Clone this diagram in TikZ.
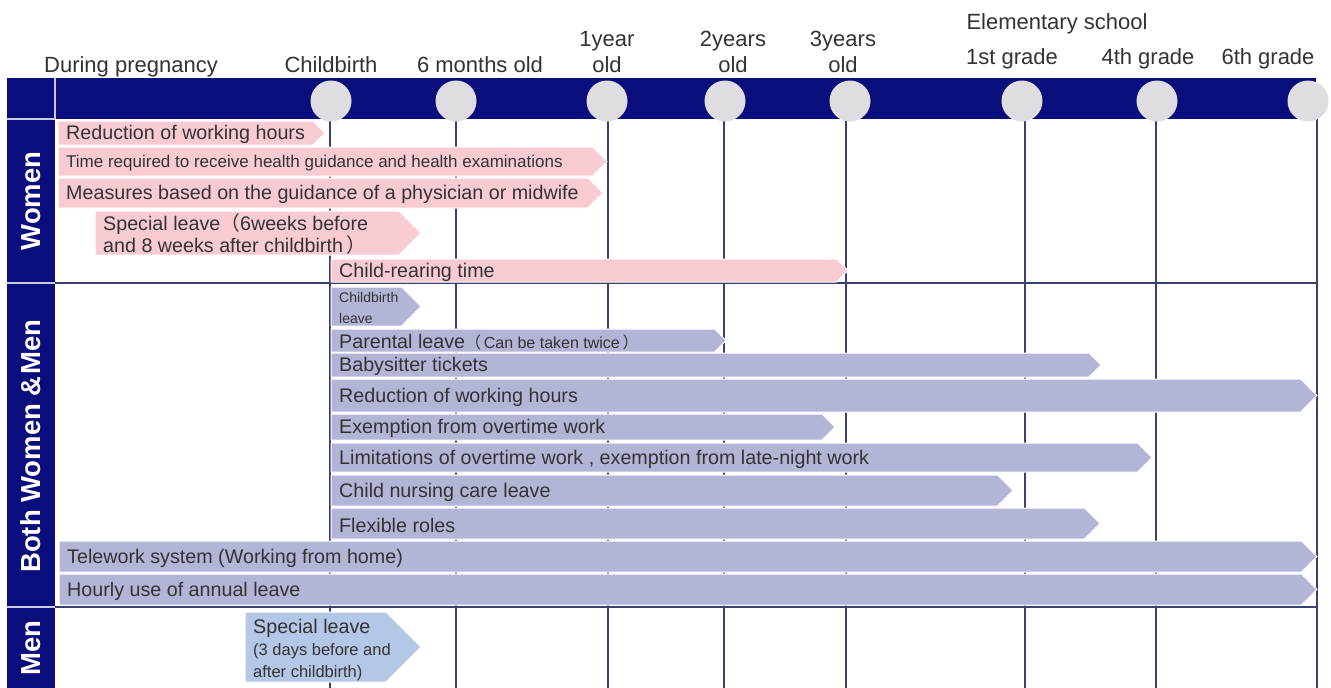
\documentclass[tikz,border=0pt]{standalone}
\usepackage{fontspec}
\setmainfont{Liberation Sans}
\newfontfamily\cjk{Noto Sans CJK JP}
\definecolor{navy}{HTML}{0A0E7C}
\definecolor{circfill}{HTML}{DDDDE2}
\definecolor{pinkbar}{HTML}{F8CBD3}
\definecolor{lavbar}{HTML}{B3B5D7}
\definecolor{menbar}{HTML}{B4C7E7}
\definecolor{gridc}{HTML}{3C4070}
\definecolor{txt}{HTML}{333333}
\definecolor{sepc}{HTML}{C8CBE8}
\newcommand\tlbar[8][]{%
  \fill[#7, draw=white, line width=1pt] (#3,#4) -- ({#5-(#6-#4)/2},#4) -- (#5,{(#4+#6)/2}) -- ({#5-(#6-#4)/2},#6) -- (#3,#6) -- cycle;
  \node[bartext,#1] (#2) at ({#3+8},{(#4+#6)/2}) {#8};}
\begin{document}
\begin{tikzpicture}[x=1pt,y=-1pt,
  bartext/.style={anchor=west, inner sep=0pt, yshift=-1.5pt, text=txt, align=left, font=\fontsize{19.7}{22}\selectfont},
  hdr/.style={anchor=base, inner sep=0pt, text=txt, align=center, font=\fontsize{22}{26}\selectfont},
  side/.style={rotate=90, inner sep=0pt, text=white, font=\bfseries\fontsize{27.5}{30}\selectfont},
  circ/.style={circle, fill=circfill, minimum size=41pt, inner sep=0pt},
  gridline/.style={draw=gridc, line width=1.5pt},
  sepline/.style={draw=sepc, line width=1.2pt}]
\useasboundingbox[fill=white] (0,0) rectangle (1331,688);
% header band and left column
\fill[navy] (7,78) rectangle (1316,119);
\fill[navy] (7,119) rectangle (55,688);
\draw[sepline] (55,78) -- (55,119);
\draw[sepline] (7,119) -- (55,119);
\draw[sepline] (7,283) -- (55,283);
\draw[sepline] (7,607) -- (55,607);
% grid
\foreach \gx in {330,456,608,724,846,1025,1156,1317}
  \draw[gridline] (\gx,119) -- (\gx,688);
\draw[gridline] (55,283) -- (1317,283);
\draw[gridline] (55,607) -- (1317,607);
% circles
\node[circ] (c1) at (331,101) {};
\node[circ] (c2) at (456,101) {};
\node[circ] (c3) at (607,101) {};
\node[circ] (c4) at (725,101) {};
\node[circ] (c5) at (850,101) {};
\node[circ] (c6) at (1022,101) {};
\node[circ] (c7) at (1157,101) {};
\node[circ] (c8) at (1308,101) {};
% header labels
\node[hdr] (h1) at (131,72) {During pregnancy};
\node[hdr] (h2) at (331,72) {Childbirth};
\node[hdr] (h3) at (480,72) {6 months old};
\node[hdr] (h4) at (607,72) {1year\\old};
\node[hdr] (h5) at (733,72) {2years\\old};
\node[hdr] (h6) at (843,72) {3years\\old};
\node[hdr] (h7) at (1057,29) {Elementary school};
\node[hdr] (h8) at (1012,64) {1st grade};
\node[hdr] (h9) at (1148,64) {4th grade};
\node[hdr] (h10) at (1268,64) {6th grade};
% side labels
\node[side] (sw) at (31,201) {Women};
\node[side] (sb) at (31,446) {Both Women \&\hspace{2pt}Men};
\node[side] (sm) at (31,648) {Men};
% women bars
\tlbar{w1}{58}{121}{325}{145}{pinkbar}{Reduction of working hours}
\tlbar[font=\fontsize{17}{20}\selectfont]{w2}{58}{147}{607}{176}{pinkbar}{Time required to receive health guidance and health examinations}
\tlbar{w3}{58}{178}{603}{208}{pinkbar}{Measures based on the guidance of a physician or midwife}
\tlbar{w4}{95}{211}{421}{255}{pinkbar}{Special leave{\cjk （}6weeks before\\and 8 weeks after childbirth\,{\cjk ）}}
\tlbar{w5}{331}{259}{848}{282}{pinkbar}{Child-rearing time}
% both bars
\tlbar[font=\fontsize{14}{21}\selectfont]{b1}{331}{287}{421}{326}{lavbar}{Childbirth\\leave}
\tlbar{b2}{331}{329}{726}{352}{lavbar}{Parental leave{\fontsize{16}{20}\selectfont{\cjk （}\,Can be taken twice\,{\cjk ）}}}
\tlbar{b3}{331}{353}{1101}{377}{lavbar}{Babysitter tickets}
\tlbar{b4}{331}{379}{1317}{412}{lavbar}{Reduction of working hours}
\tlbar{b5}{331}{414}{835}{440}{lavbar}{Exemption from overtime work}
\tlbar{b6}{331}{443}{1152}{472}{lavbar}{Limitations of overtime work , exemption from late-night work}
\tlbar{b7}{331}{475}{1013}{506}{lavbar}{Child nursing care leave}
\tlbar{b8}{331}{508}{1100}{539}{lavbar}{Flexible roles}
\tlbar{b9}{59}{541}{1317}{572}{lavbar}{Telework system (Working from home)}
\tlbar{b10}{59}{574}{1317}{605}{lavbar}{Hourly use of annual leave}
% men bar
\tlbar[yshift=-2pt]{m1}{245}{612}{421}{682}{menbar}{Special leave\\{\fontsize{16.5}{20}\selectfont (3 days before and}\\{\fontsize{16.5}{20}\selectfont after childbirth)}}
\end{tikzpicture}
\end{document}
